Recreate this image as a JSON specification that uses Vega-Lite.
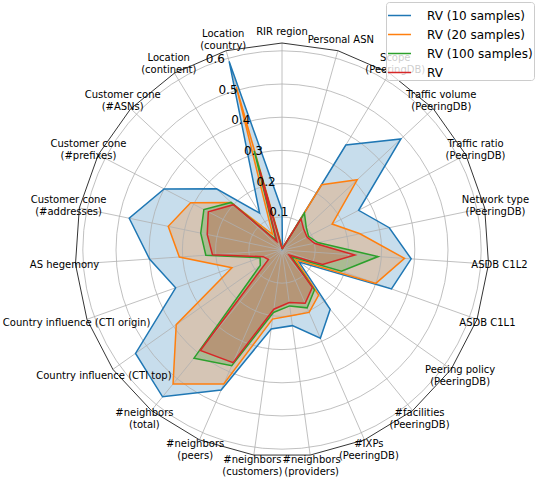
{
  "$schema": "https://vega.github.io/schema/vega-lite/v6.json",
  "width": 414,
  "height": 414,
  "autosize": {"type": "none"},
  "padding": {"left": 75, "top": 43, "right": 50, "bottom": 25},
  "background": "white",
  "config": {
    "view": {"stroke": null},
    "font": "DejaVu Sans",
    "text": {"font": "DejaVu Sans", "color": "#000000"}
  },
  "datasets": {
    "metrics": [
      {"axis": "RIR region", "s10": 0.12, "s20": 0.01, "s100": 0.005, "rv": 0.005},
      {"axis": "Personal ASN", "s10": 0.005, "s20": 0.005, "s100": 0.005, "rv": 0.005},
      {"axis": "Scope\n(PeeringDB)", "s10": 0.37, "s20": 0.23, "s100": 0.13, "rv": 0.11},
      {"axis": "Traffic volume\n(PeeringDB)", "s10": 0.49, "s20": 0.31, "s100": 0.10, "rv": 0.09},
      {"axis": "Traffic ratio\n(PeeringDB)", "s10": 0.26, "s20": 0.17, "s100": 0.09, "rv": 0.085},
      {"axis": "Network type\n(PeeringDB)", "s10": 0.33, "s20": 0.24, "s100": 0.11, "rv": 0.10},
      {"axis": "ASDB C1L2", "s10": 0.39, "s20": 0.37, "s100": 0.29, "rv": 0.22},
      {"axis": "ASDB C1L1", "s10": 0.35, "s20": 0.30, "s100": 0.19, "rv": 0.13},
      {"axis": "Peering policy\n(PeeringDB)", "s10": 0.063, "s20": 0.05, "s100": 0.035, "rv": 0.026},
      {"axis": "#facilities\n(PeeringDB)", "s10": 0.23, "s20": 0.175, "s100": 0.155, "rv": 0.145},
      {"axis": "#IXPs\n(PeeringDB)", "s10": 0.29, "s20": 0.205, "s100": 0.19, "rv": 0.175},
      {"axis": "#neighbors\n(providers)", "s10": 0.23, "s20": 0.20, "s100": 0.17, "rv": 0.16},
      {"axis": "#neighbors\n(customers)", "s10": 0.24, "s20": 0.21, "s100": 0.19, "rv": 0.18},
      {"axis": "#neighbors\n(peers)", "s10": 0.46, "s20": 0.44, "s100": 0.38, "rv": 0.37},
      {"axis": "#neighbors\n(total)", "s10": 0.57, "s20": 0.52, "s100": 0.42, "rv": 0.39},
      {"axis": "Country influence (CTI top)", "s10": 0.54, "s20": 0.39, "s100": 0.08, "rv": 0.05},
      {"axis": "Country influence (CTI origin)", "s10": 0.34, "s20": 0.16, "s100": 0.07, "rv": 0.06},
      {"axis": "AS hegemony", "s10": 0.40, "s20": 0.31, "s100": 0.23, "rv": 0.21},
      {"axis": "Customer cone\n(#addresses)", "s10": 0.47, "s20": 0.35, "s100": 0.25, "rv": 0.23},
      {"axis": "Customer cone\n(#prefixes)", "s10": 0.40, "s20": 0.31, "s100": 0.265, "rv": 0.25},
      {"axis": "Customer cone\n(#ASNs)", "s10": 0.27, "s20": 0.21, "s100": 0.21, "rv": 0.20},
      {"axis": "Location\n(continent)", "s10": 0.13, "s20": 0.055, "s100": 0.035, "rv": 0.03},
      {"axis": "Location\n(country)", "s10": 0.59, "s20": 0.51, "s100": 0.31, "rv": 0.25}
    ],
    "rings": [{"r": 0.1}, {"r": 0.2}, {"r": 0.3}, {"r": 0.4}, {"r": 0.5}, {"r": 0.6}]
  },
  "layer": [
    {
      "data": {"name": "metrics"},
      "transform": [
        {"window": [{"op": "row_number", "as": "idx"}]},
        {"fold": ["s10", "s20", "s100", "rv"], "as": ["grp", "value"]},
        {"calculate": "(datum.idx - 1) * 2 * PI / 23", "as": "theta"},
        {"calculate": "datum.value * sin(datum.theta)", "as": "px"},
        {"calculate": "datum.value * cos(datum.theta)", "as": "py"}
      ],
      "mark": {"type": "line", "interpolate": "linear-closed", "strokeWidth": 0, "strokeOpacity": 0, "fillOpacity": 0.25},
      "encoding": {
        "x": {"field": "px", "type": "quantitative", "scale": {"domain": [-0.6235, 0.6235], "nice": false, "zero": false}, "axis": null},
        "y": {"field": "py", "type": "quantitative", "scale": {"domain": [-0.6235, 0.6235], "nice": false, "zero": false}, "axis": null},
        "fill": {"field": "grp", "type": "nominal", "scale": {"domain": ["rv", "s100", "s20", "s10"], "range": ["#d62728", "#2ca02c", "#ff7f0e", "#1f77b4"]}, "legend": null},
        "order": {"field": "idx", "type": "quantitative"}
      }
    },
    {
      "data": {"name": "rings"},
      "transform": [{"calculate": "0", "as": "c0"}],
      "mark": {"type": "point", "shape": "circle", "filled": false, "stroke": "#b0b0b0", "strokeWidth": 0.8, "opacity": 1},
      "encoding": {
        "x": {"field": "c0", "type": "quantitative"},
        "y": {"field": "c0", "type": "quantitative"},
        "size": {"field": "r", "type": "quantitative", "scale": {"type": "pow", "exponent": 2, "domain": [0, 0.6235], "range": [0, 171396], "zero": true, "nice": false}, "legend": null}
      }
    },
    {
      "data": {"name": "metrics"},
      "transform": [
        {"window": [{"op": "row_number", "as": "idx"}]},
        {"calculate": "(datum.idx - 1) * 2 * PI / 23", "as": "theta"},
        {"calculate": "0.6235 * sin(datum.theta)", "as": "ex"},
        {"calculate": "0.6235 * cos(datum.theta)", "as": "ey"}
      ],
      "mark": {"type": "rule", "stroke": "#b0b0b0", "strokeWidth": 0.8},
      "encoding": {
        "x": {"field": "ex", "type": "quantitative"},
        "y": {"field": "ey", "type": "quantitative"},
        "x2": {"datum": 0},
        "y2": {"datum": 0}
      }
    },
    {
      "data": {"name": "metrics"},
      "transform": [
        {"window": [{"op": "row_number", "as": "idx"}]},
        {"fold": ["s10", "s20", "s100", "rv"], "as": ["series", "value"]},
        {"calculate": "(datum.idx - 1) * 2 * PI / 23", "as": "theta"},
        {"calculate": "datum.value * sin(datum.theta)", "as": "px"},
        {"calculate": "datum.value * cos(datum.theta)", "as": "py"}
      ],
      "mark": {"type": "line", "interpolate": "linear-closed", "strokeWidth": 1.5},
      "encoding": {
        "x": {"field": "px", "type": "quantitative"},
        "y": {"field": "py", "type": "quantitative"},
        "color": {
          "field": "series",
          "type": "nominal",
          "scale": {"domain": ["s10", "s20", "s100", "rv"], "range": ["#1f77b4", "#ff7f0e", "#2ca02c", "#d62728"]},
          "legend": {
            "orient": "none",
            "legendX": 311,
            "legendY": -41,
            "title": null,
            "symbolType": "stroke",
            "symbolSize": 529,
            "symbolStrokeWidth": 1.5,
            "labelFontSize": 12,
            "labelFont": "DejaVu Sans",
            "labelColor": "#000000",
            "labelOffset": 15,
            "padding": 1,
            "rowPadding": -12,
            "strokeColor": "#cccccc",
            "fillColor": "rgba(255,255,255,0.8)",
            "cornerRadius": 3,
            "labelExpr": "datum.label == 's10' ? 'RV (10 samples)' : datum.label == 's20' ? 'RV (20 samples)' : datum.label == 's100' ? 'RV (100 samples)' : 'RV'"
          }
        },
        "order": {"field": "idx", "type": "quantitative"}
      }
    },
    {
      "data": {"name": "metrics"},
      "transform": [
        {"window": [{"op": "row_number", "as": "idx"}]},
        {"calculate": "(datum.idx - 1) * 2 * PI / 23", "as": "theta"},
        {"calculate": "0.6235 * sin(datum.theta)", "as": "ex"},
        {"calculate": "0.6235 * cos(datum.theta)", "as": "ey"}
      ],
      "mark": {"type": "line", "interpolate": "linear-closed", "stroke": "#000000", "strokeWidth": 0.8},
      "encoding": {
        "x": {"field": "ex", "type": "quantitative"},
        "y": {"field": "ey", "type": "quantitative"},
        "order": {"field": "idx", "type": "quantitative"}
      }
    },
    {
      "data": {"name": "metrics"},
      "transform": [
        {"window": [{"op": "row_number", "as": "idx"}]},
        {"filter": "indexof(datum.axis, '\\n') < 0"},
        {"calculate": "(datum.idx - 1) * 2 * PI / 23", "as": "theta"},
        {"calculate": "0.6566 * sin(datum.theta)", "as": "lx"},
        {"calculate": "0.6566 * cos(datum.theta)", "as": "ly"}
      ],
      "mark": {"type": "text", "align": "center", "baseline": "middle", "fontSize": 10, "color": "#000000"},
      "encoding": {
        "x": {"field": "lx", "type": "quantitative"},
        "y": {"field": "ly", "type": "quantitative"},
        "text": {"field": "axis", "type": "nominal"}
      }
    },
    {
      "data": {"name": "metrics"},
      "transform": [
        {"window": [{"op": "row_number", "as": "idx"}]},
        {"filter": "indexof(datum.axis, '\\n') >= 0"},
        {"calculate": "(datum.idx - 1) * 2 * PI / 23", "as": "theta"},
        {"calculate": "0.6566 * sin(datum.theta)", "as": "lx"},
        {"calculate": "0.6566 * cos(datum.theta)", "as": "ly"}
      ],
      "mark": {"type": "text", "align": "center", "baseline": "middle", "dy": -6, "fontSize": 10, "lineBreak": "\n", "lineHeight": 12, "color": "#000000"},
      "encoding": {
        "x": {"field": "lx", "type": "quantitative"},
        "y": {"field": "ly", "type": "quantitative"},
        "text": {"field": "axis", "type": "nominal"}
      }
    },
    {
      "data": {"name": "rings"},
      "transform": [
        {"calculate": "datum.r * sin(-PI / 8)", "as": "tx"},
        {"calculate": "datum.r * cos(-PI / 8)", "as": "ty"}
      ],
      "mark": {"type": "text", "align": "left", "baseline": "bottom", "fontSize": 12, "color": "#000000"},
      "encoding": {
        "x": {"field": "tx", "type": "quantitative"},
        "y": {"field": "ty", "type": "quantitative"},
        "text": {"field": "r", "type": "quantitative", "format": ".1f"}
      }
    }
  ]
}
